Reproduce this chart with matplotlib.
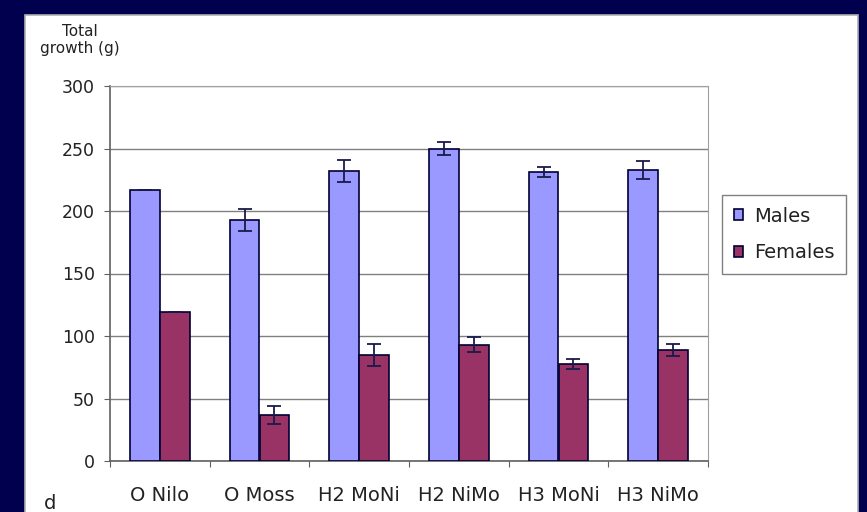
import numpy as np
import matplotlib.pyplot as plt
from matplotlib.patches import Rectangle

plt.rcParams['font.family'] = ['DejaVu Sans']

groups = ["O Nilo", "O Moss", "H2 MoNi", "H2 NiMo", "H3 MoNi", "H3 NiMo"]
males = [217, 193, 232, 250, 231, 233]
males_err = [0, 9, 9, 5, 4, 7]
females = [119, 37, 85, 93, 78, 89]
females_err = [0, 7, 9, 6, 4, 5]
y_ticks = [0, 50, 100, 150, 200, 250, 300]

W, H = 867, 512
fig = plt.figure(figsize=(W / 100, H / 100), dpi=100)
fig.patch.set_facecolor("#00004e")

# white chart panel behind the axes
panel = Rectangle((25 / W, -0.05), 833 / W, 1 - 15 / H + 0.05,
                  transform=fig.transFigure, facecolor="white",
                  edgecolor="#b0b0b0", linewidth=1.2, zorder=-5)
fig.patches.append(panel)

ax = fig.add_axes([110 / W, (H - 461) / H, 598 / W, 375 / H])
ax.set_facecolor("white")

x = np.arange(len(groups))
bw = 0.3
err_kw = dict(ecolor="#1a1a4a", elinewidth=1.3, capsize=5, capthick=1.3)
ax.bar(x - bw / 2, males, bw, yerr=males_err, color="#9999ff",
       edgecolor="#000033", linewidth=1.2, error_kw=err_kw, label="Males", zorder=3)
ax.bar(x + bw / 2, females, bw, yerr=females_err, color="#993366",
       edgecolor="#000033", linewidth=1.2, error_kw=err_kw, label="Females", zorder=3)

ax.set_xlim(-0.5, len(groups) - 0.5)
ax.set_ylim(0, 300)
ax.set_yticks(y_ticks)
ax.tick_params(axis="y", labelsize=12.5, length=4, color="#606060", pad=7,
               labelcolor="#222222")
ax.grid(axis="y", color="#808080", linewidth=1, zorder=0)
ax.set_axisbelow(True)

# category labels centred on groups, tick marks between groups
ax.set_xticks(np.arange(len(groups) + 1) - 0.5)
ax.set_xticklabels([])
ax.tick_params(axis="x", length=4, color="#606060")
for xi, g in zip(x, groups):
    ax.text(xi, -25 / 375, g, transform=ax.get_xaxis_transform(),
            ha="center", va="top", fontsize=14, color="#222222")

for side in ["top", "right"]:
    ax.spines[side].set_color("#a0a0a0")
for side in ["left", "bottom"]:
    ax.spines[side].set_color("#606060")
    ax.spines[side].set_linewidth(1.2)

fig.text(80 / W, 1 - 40 / H, "Total\ngrowth (g)", ha="center", va="center",
         fontsize=11, linespacing=1.25, color="#222222")
fig.text(50 / W, 1 - 494 / H, "d", ha="center", va="top", fontsize=14,
         color="#222222")

leg = ax.legend(loc="upper left", bbox_to_anchor=(722 / W, 1 - 195 / H),
                bbox_transform=fig.transFigure, borderaxespad=0,
                fontsize=14, frameon=True, fancybox=False,
                edgecolor="#606060", handlelength=0.5, handleheight=0.5,
                handletextpad=0.55, borderpad=0.6, labelspacing=0.9)
leg.get_frame().set_linewidth(1)
for t in leg.get_texts():
    t.set_color("#222222")

fig.savefig("out.png", dpi=100, facecolor=fig.get_facecolor())
